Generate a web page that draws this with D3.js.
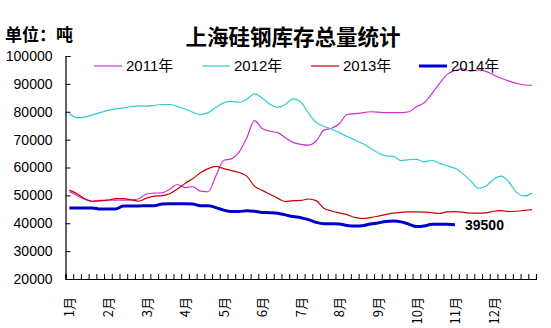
<!DOCTYPE html>
<html><head><meta charset="utf-8">
<script src="https://cdn.jsdelivr.net/npm/d3@7"></script>
<style>
html,body{margin:0;padding:0;background:#fff;}
svg{display:block;}
text{font-family:"Liberation Sans","Noto Sans CJK SC",sans-serif;fill:#000;}
.cjk{font-family:"Noto Sans CJK SC",sans-serif;}
</style></head>
<body>
<script>
const title = "上海硅钢库存总量统计";
const unitLabel = "单位：吨";
const seriesNames = ["2011年","2012年","2013年","2014年"];
const monthLabels = ["1月","2月","3月","4月","5月","6月","7月","8月","9月","10月","11月","12月"];
const yTicks = [20000,30000,40000,50000,60000,70000,80000,90000,100000];
const endLabel = "39500";

const s2011 = [51300,50000,48500,47900,48200,48300,48300,48300,48400,48800,
  50500,50800,50900,52200,53900,52800,53100,51500,51300,57000,
  62500,63100,65500,70600,76800,74000,73000,72500,70700,69000,
  68300,68000,69500,73400,74100,75700,79000,79300,79600,80000,
  79900,79700,79700,79700,80000,81800,83200,86500,90200,93400,
  94800,95400,94600,95000,94500,93200,92000,91000,90200,89600,89500];
const s2012 = [79400,77900,78100,78900,79700,80500,81000,81400,81800,82100,
  82000,82300,82600,82600,81900,81000,79800,79000,79700,81600,
  83200,83700,83400,84600,86400,84900,82700,81600,82600,84600,
  83500,79500,76200,74800,73800,72500,71100,69900,68600,67000,
  65300,64200,64000,62500,62800,62900,62000,62600,61500,60600,
  59700,57800,55400,52600,53300,55800,56900,54700,51000,49800,50800];
const s2013 = [51900,50600,48800,47900,48000,48300,48800,48800,48400,47900,
  49000,49700,49900,50600,52300,54300,56000,58100,59600,60400,
  59600,58900,58200,56900,53300,51800,50400,49000,47800,48100,
  48200,48700,48100,45400,44400,43700,43100,42100,41700,42000,
  42500,43100,43600,43900,44100,44100,44000,43800,43500,44100,
  44200,44000,43600,43600,43700,44300,44500,44200,44300,44600,44900];
const s2014 = [45500,45500,45500,45500,45100,45100,45100,46200,46200,46200,
  46300,46300,46900,47000,47000,47000,46900,46300,46300,45600,
  44700,44200,44200,44500,44300,43900,43800,43600,43000,42400,
  42000,41300,40300,39800,39800,39700,39200,39000,39100,39700,
  40100,40600,40800,40500,39700,38800,39000,39600,39600,39600,39500];

const colors = ["#CC33CC","#33CCCC","#CC0000","#0000CC"];
const widths = [1.2,1.2,1.2,3];
const allSeries = [s2011,s2012,s2013,s2014];
const nCats = 61;

const W = 551, H = 328;
const svg = d3.select("body").append("svg").attr("width",W).attr("height",H);

const x = d3.scaleLinear().domain([0,nCats]).range([65.5,536]);
const y = d3.scaleLinear().domain([20000,100000]).range([279,56]);

// Y axis
const yAxis = d3.axisLeft(y).tickValues(yTicks).tickSize(-5).tickPadding(13)
  .tickFormat(d3.format("d"));
const gy = svg.append("g").attr("transform","translate(65.5,0)").call(yAxis);
gy.select(".domain").attr("stroke","#000").attr("stroke-width",1.2);
gy.selectAll(".tick line").attr("stroke","#000");
gy.selectAll("text").attr("font-size",14).style("font-family","'Liberation Sans',sans-serif");

// X axis: tick marks at category boundaries
const xAxis = d3.axisBottom(x).tickValues(d3.range(nCats+1)).tickSize(-5).tickFormat("");
const gx = svg.append("g").attr("transform","translate(0,279)").call(xAxis);
gx.select(".domain").attr("stroke","#000").attr("stroke-width",1.2);
gx.selectAll(".tick line").attr("stroke","#000");

// Month labels (rotated)
const monthIdx = monthLabels.map((m,i)=>i*5);
const xLab = d3.axisBottom(x).tickValues(monthIdx.map(i=>i+0.5)).tickSize(0)
  .tickFormat((d,i)=>monthLabels[i]);
const gl = svg.append("g").attr("transform","translate(0,279)").call(xLab);
gl.select(".domain").remove();
gl.selectAll("text")
  .attr("font-size",13)
  .style("font-family","'Noto Sans CJK SC',sans-serif")
  .attr("transform","rotate(-90)")
  .attr("text-anchor","end")
  .attr("x",-18).attr("y",0).attr("dy","0.35em");

// Lines
const line = d3.line().x((d,i)=>x(i+0.5)).y(d=>y(d)).curve(d3.curveMonotoneX);
allSeries.forEach((s,k)=>{
  svg.append("path").datum(s).attr("d",line)
    .attr("fill","none").attr("stroke",colors[k]).attr("stroke-width",widths[k])
    .attr("stroke-linejoin","round");
});

// End label
svg.append("text").attr("x",x(s2014.length-1+0.5)+10).attr("y",y(s2014[s2014.length-1])+5)
  .attr("font-size",14).attr("font-weight","bold").text(endLabel);

// Legend
const legX = [94,202,311,419];
seriesNames.forEach((n,k)=>{
  const g = svg.append("g");
  g.append("line").attr("x1",legX[k]).attr("x2",legX[k]+28).attr("y1",66).attr("y2",66)
    .attr("stroke",colors[k]).attr("stroke-width",widths[k]);
  g.append("text").attr("x",legX[k]+32).attr("y",71).attr("font-size",15).text(n);
});

// Title & unit
svg.append("text").attr("class","cjk").attr("x",293).attr("y",45).attr("text-anchor","middle")
  .attr("font-size",21.5).attr("font-weight","bold").text(title);
svg.append("text").attr("class","cjk").attr("x",5).attr("y",41)
  .attr("font-size",17).attr("font-weight","bold").text(unitLabel);
</script>
</body></html>
